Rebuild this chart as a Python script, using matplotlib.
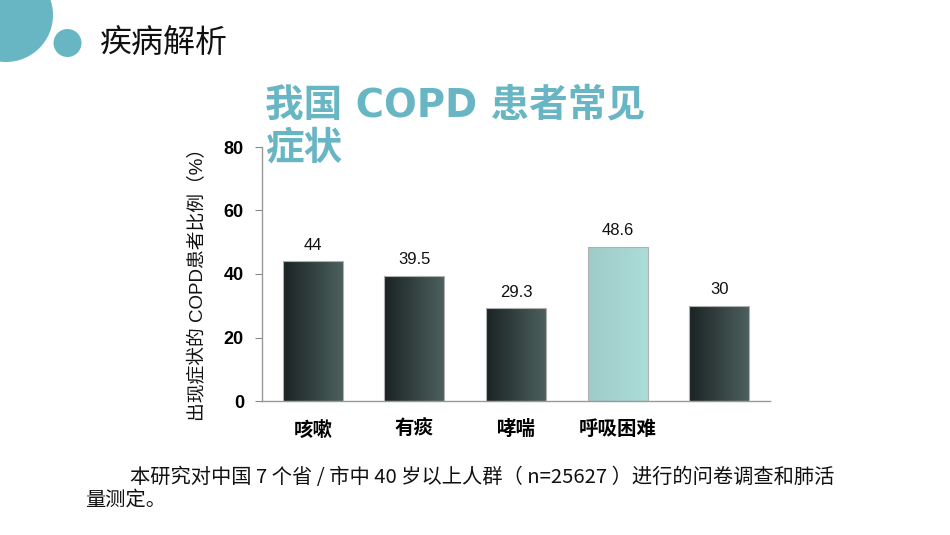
import numpy as np
import matplotlib
matplotlib.use('Agg')
import matplotlib.pyplot as plt
from matplotlib.colors import LinearSegmentedColormap
from matplotlib.patches import Circle

plt.rcParams['font.family'] = ['Liberation Sans', 'Noto Sans CJK SC', 'DejaVu Sans']

# Datos del gráfico
sintomas = ['咳嗽', '有痰', '哮喘', '呼吸困难', '']
porcentajes = [44, 39.5, 29.3, 48.6, 30]
etiquetas = ['44', '39.5', '29.3', '48.6', '30']
destacado = [False, False, False, True, False]
yticks = [0, 20, 40, 60, 80]

teal = '#68b6c3'
oscuro = ('#1b2323', '#4c605e')
claro = ('#9ecbc8', '#acddd8')

fig = plt.figure(figsize=(9.5, 5.35), dpi=100)

# Capa de fondo en coordenadas de píxel
bg = fig.add_axes([0, 0, 1, 1])
bg.set_xlim(0, 950)
bg.set_ylim(535, 0)
bg.axis('off')
bg.add_patch(Circle((6, 15), 47, color=teal, lw=0))
bg.add_patch(Circle((67.5, 43), 14, color=teal, lw=0))
bg.text(100, 44, '疾病解析', fontsize=23, va='center', ha='left',
        family=['Noto Sans CJK SC'], color='#111111')
bg.text(265, 106, '我国 COPD 患者常见', fontsize=27.8, fontweight='bold', va='center',
        ha='left', color=teal, family=['DejaVu Sans', 'Noto Sans CJK SC'])
bg.text(265, 148, '症状', fontsize=27.8, fontweight='bold', va='center',
        ha='left', color=teal, family=['Noto Sans CJK SC'])
bg.text(198, 280, '出现症状的 COPD患者比例（%）', fontsize=13.5, rotation=90,
        va='center', ha='center', color='#111111')
bg.text(130, 477, '本研究对中国 7 个省 / 市中 40 岁以上人群（ n=25627 ）进行的问卷调查和肺活',
        fontsize=14.6, va='center', ha='left', family=['Noto Sans CJK SC'], color='#111111')
bg.text(85, 500, '量测定。', fontsize=14.6, va='center', ha='left',
        family=['Noto Sans CJK SC'], color='#111111')

# Gráfico de barras
ax = fig.add_axes([262 / 950, 134 / 535, 508 / 950, 254 / 535])
ax.patch.set_alpha(0)
x = np.arange(len(sintomas))
barras = ax.bar(x, porcentajes, width=0.59, facecolor='none', edgecolor='#b0b0b0',
                linewidth=0.8, zorder=3)
grad = np.linspace(0, 1, 256).reshape(1, -1)
for b, d in zip(barras, destacado):
    c0, c1 = claro if d else oscuro
    cmap = LinearSegmentedColormap.from_list('g', [c0, c1])
    x0, w, h = b.get_x(), b.get_width(), b.get_height()
    im = ax.imshow(grad, cmap=cmap, extent=[x0, x0 + w, 0, h], aspect='auto', zorder=2)
    im.set_clip_path(b)

for xi, v, t in zip(x, porcentajes, etiquetas):
    ax.annotate(t, (xi, v), xytext=(0, 6), textcoords='offset points',
                ha='center', va='bottom', fontsize=12, color='#111111')

ax.set_xlim(-0.5, 4.5)
ax.set_ylim(0, 80)
ax.set_yticks(yticks)
ax.set_yticklabels([str(v) for v in yticks], fontsize=13, fontweight='bold')
ax.set_xticks(x)
ax.set_xticklabels(sintomas, fontsize=14, fontweight='bold',
                   family=['Noto Sans CJK SC'])
ax.tick_params(axis='x', length=0, pad=14)
ax.tick_params(axis='y', length=5, width=0.8, color='#888888', pad=8)
for s in ['top', 'right']:
    ax.spines[s].set_visible(False)
for s in ['left', 'bottom']:
    ax.spines[s].set_color('#999999')
    ax.spines[s].set_linewidth(1.0)

fig.savefig('out.png', dpi=100)
